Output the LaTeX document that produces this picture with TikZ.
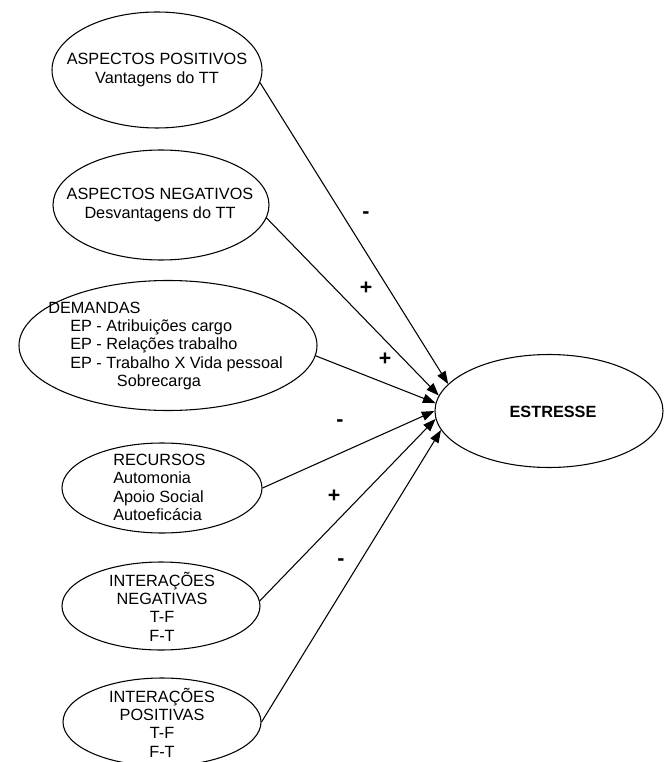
\documentclass[tikz,border=0pt]{standalone}
\usepackage{fontspec}
\setmainfont{Liberation Sans}
\usetikzlibrary{shapes.geometric,arrows.meta}

\tikzset{
  bubble/.style={draw, ellipse, line width=0.8pt, inner sep=0pt},
  txt/.style={inner sep=0pt, font=\fontsize{12.2}{13.8}\selectfont},
  sign/.style={inner sep=0pt, font=\fontsize{16}{16}\selectfont\bfseries},
  link/.style={line width=0.8pt, -{Triangle[length=9.5pt,width=7pt]}}
}

\begin{document}
\begin{tikzpicture}[x=0.75pt,y=0.75pt,yscale=-1,xscale=1]
\useasboundingbox (0,0) rectangle (665,762);

%Shape: Ellipse [aspectos positivos]
\node [bubble, minimum width=157.5pt, minimum height=87pt] (pos) at (157,70) {};
%Shape: Ellipse [aspectos negativos]
\node [bubble, minimum width=162pt, minimum height=82.5pt] (neg) at (161,205) {};
%Shape: Ellipse [demandas]
\node [bubble, minimum width=223.5pt, minimum height=97.5pt] (dem) at (168,345.5) {};
%Shape: Ellipse [recursos]
\node [bubble, minimum width=150pt, minimum height=67.5pt] (rec) at (162,488) {};
%Shape: Ellipse [interacoes negativas]
\node [bubble, minimum width=148.5pt, minimum height=66pt] (ineg) at (161,606) {};
%Shape: Ellipse [interacoes positivas]
\node [bubble, minimum width=148.5pt, minimum height=66pt] (ipos) at (162,722) {};
%Shape: Ellipse [estresse]
\node [bubble, minimum width=171pt, minimum height=84.75pt] (est) at (549,411) {};

% Text Node
\node [txt, align=center] (posT) at (157,70) {ASPECTOS POSITIVOS\\Vantagens do TT};
% Text Node
\node [txt, align=center] (negT) at (160,205) {ASPECTOS NEGATIVOS\\Desvantagens do TT};
% Text Node
\node [txt, align=left, anchor=west] (demT) at (48,346) {DEMANDAS\\\hspace*{16.5pt}EP - Atribuições cargo\\\hspace*{16.5pt}EP - Relações trabalho\\\hspace*{16.5pt}EP - Trabalho X Vida pessoal\\\hspace*{51.5pt}Sobrecarga};
% Text Node
\node [txt, align=left, anchor=west] (recT) at (113,487.5) {RECURSOS\\Automonia\\Apoio Social\\Autoeficácia};
% Text Node
\node [txt, align=center] (inegT) at (162,606.5) {INTERAÇÕES\\NEGATIVAS\\T-F\\F-T};
% Text Node
\node [txt, align=center] (iposT) at (162,722.5) {INTERAÇÕES\\POSITIVAS\\T-F\\F-T};
% Text Node
\node [txt, font=\fontsize{12.2}{13.8}\selectfont\bfseries] (estT) at (553,412) {ESTRESSE};

%Straight Lines
\draw [link] (pos.-7) -- (est.165);
\draw [link] (neg.-7) -- (est.172);
\draw [link] (dem.-4) -- (est.176.5);
\draw [link] (rec.east) -- (est.180);
\draw [link] (ineg.3) -- (est.184.5);
\draw [link] (ipos.east) -- (est.190);

% Text Node
\node [sign] (sPos) at (366,215) {-};
\node [sign] (sNeg) at (366,288) {+};
\node [sign] (sDem) at (385,359) {+};
\node [sign] (sRec) at (340,423) {-};
\node [sign] (sIneg) at (334,496) {+};
\node [sign] (sIpos) at (341,562) {-};

\end{tikzpicture}
\end{document}
